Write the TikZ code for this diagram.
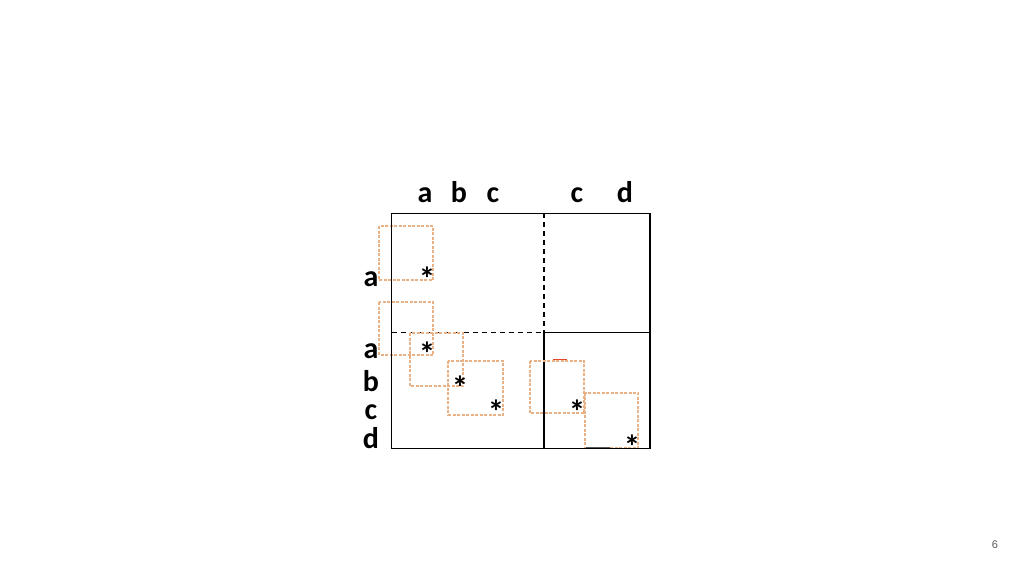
\documentclass[tikz,border=0pt]{standalone}
\usepackage{fontspec}
\setmainfont{Carlito}
\setsansfont{Liberation Sans}
\definecolor{sqc}{RGB}{234,178,132}
\definecolor{redc}{RGB}{230,70,50}
\definecolor{pgc}{RGB}{90,90,90}
\begin{document}
\begin{tikzpicture}[x=1pt,y=-1pt,
  lbl/.style={font=\fontsize{30}{30}\selectfont\bfseries, inner sep=0pt, anchor=base},
  ast/.style={font=\fontsize{33}{33}\selectfont\bfseries, inner sep=0pt, anchor=base},
  sq/.style={draw=sqc, line width=1.8pt, dash pattern=on 3pt off 1.5pt},
  frame/.style={draw=black, line width=1.5pt},
  divd/.style={draw=black, line width=1.2pt, dash pattern=on 5pt off 4pt},
  divs/.style={draw=black, line width=1.2pt}]
\useasboundingbox[fill=white] (0,0) rectangle (1024,576);
% dividers
\coordinate (vt) at (544,213.3);
\coordinate (vm) at (544,332.5);
\coordinate (vb) at (544,448.3);
\coordinate (hl) at (391.7,332.5);
\coordinate (hr) at (650,332.5);
\draw[divd] (vt) -- (vm);
\draw[divs] (vm) -- (vb);
\draw[divd] (hl) -- (vm);
\draw[divs] (vm) -- (hr);
% squares
\draw[sq] (379.3,226) rectangle (433.3,280);
\draw[sq] (379.3,302.3) rectangle (433.3,355);
\draw[sq] (410,333.3) rectangle (463.3,386);
\draw[sq] (448.3,360.7) rectangle (502.7,415);
\draw[sq] (530,360.7) rectangle (584.3,413.3);
\draw[sq] (585,392.7) rectangle (638.3,448.3);
\draw[draw=redc, line width=1.4pt] (553,359.5) -- (567,359.5);
\draw[draw=pgc, line width=1.4pt] (586,448) -- (610,448);
% frame
\draw[frame] (391.7,213.3) rectangle (650,448.3);
% asterisks
\node[ast] (s1) at (427,290) {*};
\node[ast] (s2) at (427,365) {*};
\node[ast] (s3) at (460,399) {*};
\node[ast] (s4) at (496,423) {*};
\node[ast] (s5) at (577,423) {*};
\node[ast] (s6) at (632,458) {*};
% top labels
\node[lbl] (ta) at (425,202) {a};
\node[lbl] (tb) at (459,202) {b};
\node[lbl] (tc) at (493,202) {c};
\node[lbl] (tc2) at (577,202) {c};
\node[lbl] (td) at (625,202) {d};
% left labels
\node[lbl] (la) at (371,286) {a};
\node[lbl] (la2) at (371,358) {a};
\node[lbl] (lb) at (371,391) {b};
\node[lbl] (lc) at (371,419) {c};
\node[lbl] (ld) at (371,448) {d};
% page number
\node[font=\sffamily\fontsize{11}{11}\selectfont, text=pgc, inner sep=0pt] (pg) at (995,545) {6};
\end{tikzpicture}
\end{document}
